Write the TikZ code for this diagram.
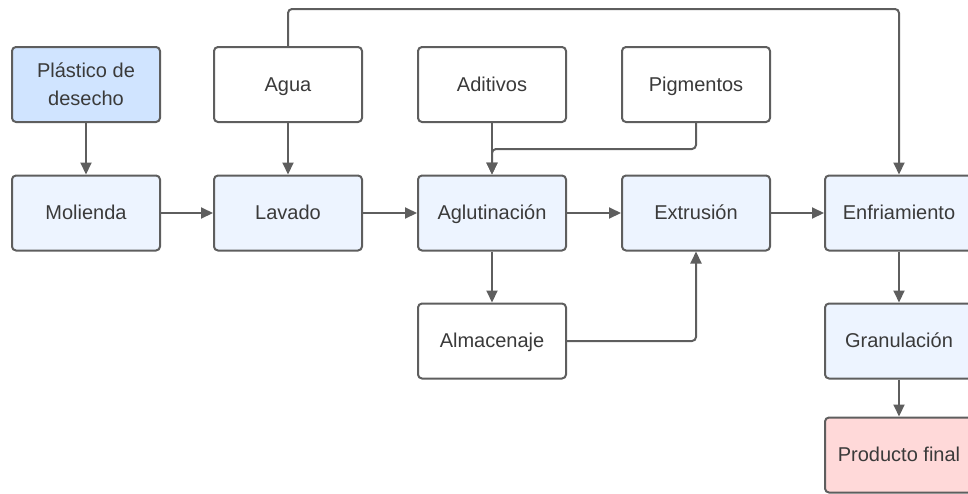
\documentclass[tikz,border=0pt]{standalone}
\usepackage{fontspec}
\setmainfont{Liberation Sans}
\usetikzlibrary{arrows.meta}
\definecolor{edge}{HTML}{5E5E5E}
\definecolor{txt}{HTML}{3A3A3A}
\definecolor{blueA}{HTML}{D0E4FF}
\definecolor{blueB}{HTML}{EDF4FF}
\definecolor{pinkA}{HTML}{FFD9D9}
\tikzset{
  box/.style={draw=edge, line width=2pt, rounded corners=4pt, minimum width=148pt, minimum height=75pt, inner sep=0pt, align=center, text=txt, font=\fontsize{20}{28}\selectfont, fill=white, text height=16pt, text depth=3pt},
  box2/.style={draw=edge, line width=2pt, rounded corners=4pt, minimum width=148pt, minimum height=75pt, inner sep=0pt, align=center, text=txt, font=\fontsize{20}{28}\selectfont},
  proc/.style={box, fill=blueB},
  arr/.style={draw=edge, line width=2pt, rounded corners=4pt, -{Triangle[length=12pt,width=11pt]}},
}
\begin{document}
\begin{tikzpicture}[x=1pt,y=-1pt]
\useasboundingbox (0,0) rectangle (968,493);
\node[box2, fill=blueA] (plast) at (86,84.5) {Plástico de\\desecho};
\node[box] (agua) at (288,84.5) {Agua};
\node[box] (adit) at (492,84.5) {Aditivos};
\node[box] (pigm) at (696,84.5) {Pigmentos};
\node[proc] (mol) at (86,213) {Molienda};
\node[proc] (lav) at (288,213) {Lavado};
\node[proc] (aglu) at (492,213) {Aglutinación};
\node[proc] (extr) at (696,213) {Extrusión};
\node[proc] (enfr) at (899,213) {Enfriamiento};
\node[box] (alm) at (492,341) {Almacenaje};
\node[proc] (gran) at (899,341) {Granulación};
\node[box, fill=pinkA] (prod) at (899,455) {Producto final};
\coordinate (topy) at (0,9);
\coordinate (py) at (0,149);
\draw[arr] (plast) -- (mol);
\draw[arr] (agua) -- (lav);
\draw[arr] (mol) -- (lav);
\draw[arr] (lav) -- (aglu);
\draw[arr] (aglu) -- (extr);
\draw[arr] (extr) -- (enfr);
\draw[arr] (adit) -- (aglu);
\draw[arr] (pigm.south) -- (pigm.south |- py) -| (aglu.north);
\draw[arr] (agua.north) -- (agua.north |- topy) -| (enfr.north);
\draw[arr] (aglu) -- (alm);
\draw[arr] (alm.east) -| (extr.south);
\draw[arr] (enfr) -- (gran);
\draw[arr] (gran) -- (prod);
\end{tikzpicture}
\end{document}
